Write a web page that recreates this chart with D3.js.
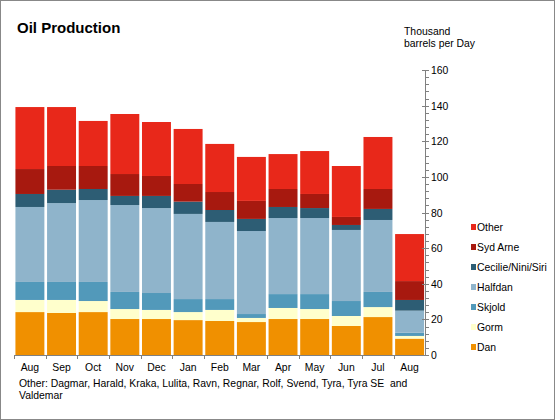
<!DOCTYPE html>
<html><head><meta charset="utf-8">
<script src="https://cdn.jsdelivr.net/npm/d3@7"></script>
<style>
html,body{margin:0;padding:0;background:#fff;}
svg{display:block;font-family:"Liberation Sans",Arial,sans-serif;}
</style></head>
<body><svg id="c" width="555" height="420"></svg>
<script>
const months = ["Aug","Sep","Oct","Nov","Dec","Jan","Feb","Mar","Apr","May","Jun","Jul","Aug"];
const seriesNames = ["Dan","Gorm","Skjold","Halfdan","Cecilie/Nini/Siri","Syd Arne","Other"];
const dan      = [24.1,23.6,24.1,20.2,20.2,19.6,19.1,18.5,20.2,20.2,16.3,21.3,9.2];
const gorm     = [6.8,7.3,6.2,5.6,5.1,4.5,6.2,2.3,6.2,5.6,5.6,5.6,1.5];
const skjold   = [10.1,10.1,10.7,9.6,9.5,7.3,6.1,2.2,7.8,8.4,8.4,8.5,1.8];
const halfdan  = [42.1,44.3,46.0,48.8,47.7,47.8,43.3,46.6,42.7,42.7,39.9,40.4,12.4];
const cecilie  = [7.3,7.5,6.2,5.1,6.8,6.9,6.7,6.8,6.2,5.6,2.8,6.2,6.0];
const sydArne  = [14.0,13.3,12.9,12.3,11.2,9.9,10.1,10.1,10.1,7.9,4.5,11.2,10.6];
const other    = [34.8,33.1,25.3,33.7,30.3,30.9,27.0,24.7,19.6,24.1,28.6,29.2,26.4];
const yTicks = [0,20,40,60,80,100,120,140,160];
const colors = ["#F09000","#FFFFCC","#5299BA","#8FB4CB","#2D5D74","#A7190F","#E8281A"];
const seriesValues = [dan,gorm,skjold,halfdan,cecilie,sydArne,other];

const FS = 10.4;
const svg = d3.select("#c");
svg.append("rect").attr("x",0.5).attr("y",0.5).attr("width",554).attr("height",419)
  .attr("fill","#fff").attr("stroke","#888");

const rows = months.map((m,i)=>{const r={idx:i}; seriesNames.forEach((s,j)=>r[s]=seriesValues[j][i]); return r;});
const stacked = d3.stack().keys(seriesNames)(rows);

const x = d3.scaleBand().domain(d3.range(months.length)).range([14,425.5]).paddingInner(0.085).paddingOuter(0.045);
const y = d3.scaleLinear().domain([0,160]).range([355,70]);
const color = d3.scaleOrdinal().domain(seriesNames).range(colors);

svg.append("g").selectAll("g").data(stacked).join("g").attr("fill",d=>color(d.key))
  .selectAll("rect").data(d=>d).join("rect")
  .attr("x",d=>x(d.data.idx)).attr("width",x.bandwidth())
  .attr("y",d=>y(d[1])).attr("height",d=>y(d[0])-y(d[1]));

// x axis
const axc = "#808080";
const xa = svg.append("g");
xa.append("line").attr("x1",14).attr("x2",425.5).attr("y1",355.5).attr("y2",355.5).attr("stroke",axc);
const step = x.step();
const bnds = d3.range(months.length).map(i=>x(i)-x.paddingInner()*step/2);
bnds.forEach(b=>xa.append("line").attr("x1",Math.round(b)+0.5).attr("x2",Math.round(b)+0.5).attr("y1",355).attr("y2",359).attr("stroke",axc));
xa.selectAll("text").data(months).join("text")
  .attr("x",(d,i)=>x(i)+x.bandwidth()/2).attr("y",371).attr("text-anchor","middle")
  .attr("font-size",FS).attr("fill","#000").text(d=>d);

// y axis on right
const ya = svg.append("g");
ya.append("line").attr("x1",425.5).attr("x2",425.5).attr("y1",70).attr("y2",355).attr("stroke",axc);
d3.range(0,161,4).forEach(v=>{
  const major = v%20===0;
  ya.append("line").attr("x1",major?422:425.5).attr("x2",429).attr("y1",Math.round(y(v))+0.5).attr("y2",Math.round(y(v))+0.5).attr("stroke",axc);
});
ya.selectAll("text").data(yTicks).join("text")
  .attr("x",431).attr("y",d=>y(d)+4).attr("font-size",FS).attr("fill","#000").text(d=>d);

// title & unit
svg.append("text").attr("x",17).attr("y",33).attr("font-size",15).attr("font-weight","bold").text("Oil Production");
svg.append("text").attr("x",404).attr("y",35).attr("font-size",FS).text("Thousand");
svg.append("text").attr("x",404).attr("y",47).attr("font-size",FS).text("barrels per Day");

// legend
const legOrder = seriesNames.slice().reverse();
const lg = svg.append("g");
legOrder.forEach((s,i)=>{
  const cy = 227+i*20;
  lg.append("rect").attr("x",471).attr("y",cy-3).attr("width",5).attr("height",6).attr("fill",color(s));
  lg.append("text").attr("x",477).attr("y",cy+4).attr("font-size",FS).text(s);
});

// footnote
svg.append("text").attr("x",19).attr("y",387).attr("font-size",FS).attr("xml:space","preserve").text("Other: Dagmar, Harald, Kraka, Lulita, Ravn, Regnar, Rolf, Svend, Tyra, Tyra SE  and");
svg.append("text").attr("x",19).attr("y",399).attr("font-size",FS).text("Valdemar");
</script></body></html>
